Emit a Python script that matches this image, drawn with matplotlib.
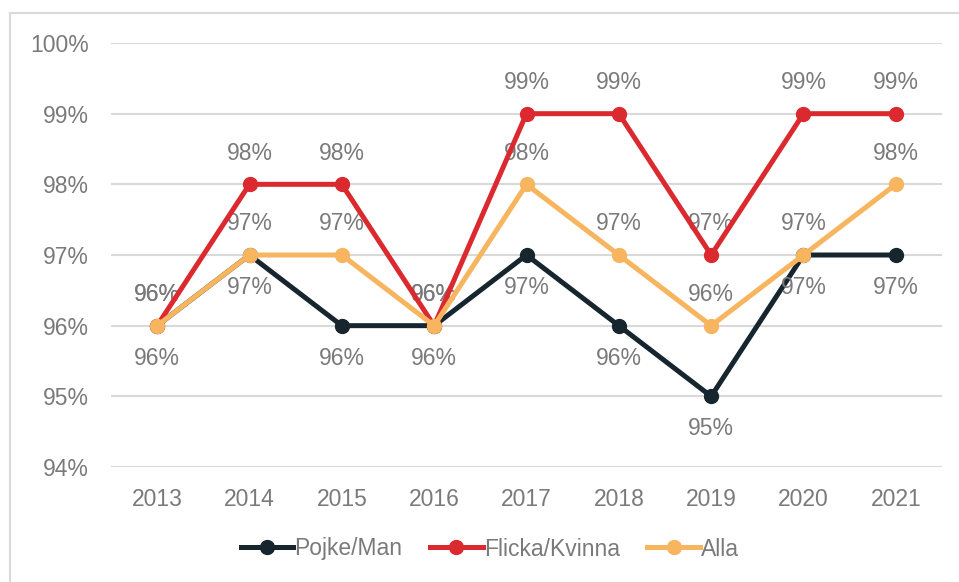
import matplotlib
matplotlib.use("Agg")
import matplotlib.pyplot as plt
from matplotlib.patches import Rectangle
from matplotlib.lines import Line2D

years = ["2013", "2014", "2015", "2016", "2017", "2018", "2019", "2020", "2021"]
pojke = [96, 97, 96, 96, 97, 96, 95, 97, 97]
flicka = [96, 98, 98, 96, 99, 99, 97, 99, 99]
alla = [96, 97, 97, 96, 98, 97, 96, 97, 98]
yticks = [94, 95, 96, 97, 98, 99, 100]

plt.rcParams['font.family'] = ['Liberation Sans', 'DejaVu Sans']
TXT = '#7a7a7a'
C_P = '#17262e'
C_F = '#db2a2f'
C_A = '#f6b55e'
FS = 16.5

fig = plt.figure(figsize=(9.59, 5.82), dpi=100)
ax = fig.add_axes([111/959, 1-467/582, (942-111)/959, (467-43)/582])

x = list(range(len(years)))
series = [(pojke, C_P, 'Pojke/Man', -1), (flicka, C_F, 'Flicka/Kvinna', 1), (alla, C_A, 'Alla', 1)]
for i, (vals, col, lab, side) in enumerate(series):
    ax.plot(x, vals, color=col, lw=3.6, marker='o', ms=10, label=lab, zorder=3+i,
            solid_joinstyle='miter')
    off = 22.5 if side > 0 else -23.5
    for xi, v in zip(x, vals):
        ax.annotate(f"{v}%", (xi, v), xytext=(0, off), textcoords='offset points',
                    ha='center', va='center', fontsize=FS, color=TXT)

ax.set_xlim(-0.5, len(years)-0.5)
ax.set_ylim(94, 100)
ax.set_yticks(yticks)
ax.set_yticklabels([f"{t}%" for t in yticks])
ax.set_xticks(x)
ax.set_xticklabels(years)
ax.grid(axis='y', color='#d9d9d9', lw=1.5, zorder=0)
ax.set_axisbelow(True)
for s in ax.spines.values():
    s.set_visible(False)
ax.tick_params(axis='both', length=0, labelsize=FS, labelcolor=TXT)
ax.tick_params(axis='y', pad=16)
ax.tick_params(axis='x', pad=15)

handles = [Line2D([0], [0], color=c, lw=3.6, marker='o', ms=10) for _, c, _, _ in series]
leg = fig.legend(handles, [s[2] for s in series], loc='center', bbox_to_anchor=(490/959, 1-549/582),
                 ncol=3, frameon=False, fontsize=FS, handlelength=2.3, handletextpad=0.05,
                 columnspacing=1.2)
for t in leg.get_texts():
    t.set_color(TXT)

fig.patches.append(Rectangle((10/959, -0.05), 1.0, 1-13/582+0.05, transform=fig.transFigure,
                             fill=False, edgecolor='#d9d9d9', lw=1.5))

fig.savefig('out.png', dpi=100)
